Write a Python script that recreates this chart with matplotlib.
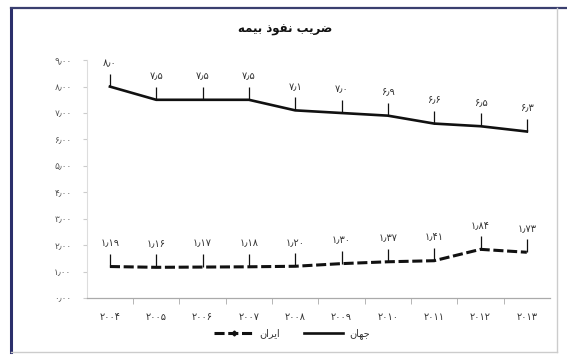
import matplotlib
matplotlib.use("Agg")
import matplotlib.pyplot as plt
from matplotlib.lines import Line2D

# data
years = [2004, 2005, 2006, 2007, 2008, 2009, 2010, 2011, 2012, 2013]
world = [8.0, 7.5, 7.5, 7.5, 7.1, 7.0, 6.9, 6.6, 6.5, 6.3]
iran = [1.19, 1.16, 1.17, 1.18, 1.20, 1.30, 1.37, 1.41, 1.84, 1.73]
yticks = [0, 1, 2, 3, 4, 5, 6, 7, 8, 9]

title = "ضریب نفوذ بیمه"
label_iran = "ایران"
label_world = "جهان"

# matplotlib has no arabic shaping, so pick the presentation forms by hand
FORMS = {  # iso, fin, ini, med
    "ا": ("\uFE8D", "\uFE8E", None, None),
    "ب": ("\uFE8F", "\uFE90", "\uFE91", "\uFE92"),
    "ج": ("\uFE9D", "\uFE9E", "\uFE9F", "\uFEA0"),
    "ذ": ("\uFEAB", "\uFEAC", None, None),
    "ر": ("\uFEAD", "\uFEAE", None, None),
    "ض": ("\uFEBD", "\uFEBE", "\uFEBF", "\uFEC0"),
    "ف": ("\uFED1", "\uFED2", "\uFED3", "\uFED4"),
    "م": ("\uFEE1", "\uFEE2", "\uFEE3", "\uFEE4"),
    "ن": ("\uFEE5", "\uFEE6", "\uFEE7", "\uFEE8"),
    "ه": ("\uFEE9", "\uFEEA", "\uFEEB", "\uFEEC"),
    "و": ("\uFEED", "\uFEEE", None, None),
    "ی": ("\uFBFC", "\uFBFD", "\uFBFE", "\uFBFF"),
}


def dual(c):
    return c in FORMS and FORMS[c][2] is not None


def shape(s):
    out = []
    for i, c in enumerate(s):
        if c not in FORMS:
            out.append(c)
            continue
        prev = s[i - 1] if i > 0 else ""
        nxt = s[i + 1] if i + 1 < len(s) else ""
        a = dual(prev)
        b = dual(c) and nxt in FORMS
        iso, fin, ini, med = FORMS[c]
        if a and b:
            out.append(med)
        elif a:
            out.append(fin)
        elif b:
            out.append(ini)
        else:
            out.append(iso)
    return "".join(reversed(out))


def fa(s):
    return s.translate(str.maketrans("0123456789.", "۰۱۲۳۴۵۶۷۸۹٫"))


plt.rcParams["font.family"] = ["DejaVu Sans"]

fig = plt.figure(figsize=(5.67, 3.56), dpi=100)
ax = fig.add_axes([0.153, 0.163, 0.817, 0.668])

x = list(range(len(years)))
ax.plot(x, world, color="#111111", lw=1.9, marker=2, markersize=9.5,
        markeredgewidth=0.9, solid_joinstyle="round")
ax.plot(x, iran, color="#111111", lw=2.2, linestyle=(0, (3.3, 1.2)),
        marker=2, markersize=9.5, markeredgewidth=0.9)

for i in x:
    ax.annotate(fa(f"{world[i]:.1f}"), (i, world[i]), xytext=(0, 17),
                textcoords="offset points", ha="center", va="center",
                fontsize=7, color="#333333")
    ax.annotate(fa(f"{iran[i]:.2f}"), (i, iran[i]), xytext=(0, 17),
                textcoords="offset points", ha="center", va="center",
                fontsize=7, color="#333333")

ax.set_xlim(-0.5, len(years) - 0.5)
ax.set_ylim(0, 9)
ax.set_yticks(yticks)
ax.set_yticklabels([fa(f"{v:.2f}") for v in yticks], fontsize=6.5, color="#555555")
ax.set_xticks(x)
ax.set_xticklabels([fa(str(y)) for y in years], fontsize=7, color="#333333")
ax.set_xticks([i + 0.5 for i in x[:-1]], minor=True)
ax.tick_params(axis="x", which="major", length=0, pad=10)
ax.tick_params(axis="x", which="minor", length=4, color="#aaaaaa")
ax.tick_params(axis="y", length=3, color="#cccccc", pad=8)

for side in ["top", "right"]:
    ax.spines[side].set_visible(False)
ax.spines["left"].set_color("#dddddd")
ax.spines["bottom"].set_color("#aaaaaa")
ax.spines["bottom"].set_linewidth(0.9)

fig.text(285 / 567, 1 - 30 / 356, shape(title), ha="center", va="center",
         fontsize=8.5, fontweight="bold", color="#111111")

handles = [
    Line2D([], [], color="#111111", lw=2.2, linestyle=(0, (3.3, 1.2)),
           marker="D", markersize=2.5),
    Line2D([], [], color="#111111", lw=1.9),
]
fig.legend(handles, [shape(label_iran), shape(label_world)], ncol=2,
           loc="center", bbox_to_anchor=(292 / 567, 1 - 334 / 356),
           frameon=False, fontsize=7, handlelength=4.0, columnspacing=2.5,
           handletextpad=0.6, labelcolor="#333333")

# page frame of the scanned figure
fig.add_artist(Line2D([11 / 567, 11 / 567], [4 / 356, 1 - 8 / 356],
                      color="#2b2f6b", lw=2.2, transform=fig.transFigure))
fig.add_artist(Line2D([11 / 567, 1], [1 - 8 / 356, 1 - 8 / 356],
                      color="#3a3f6f", lw=1.6, transform=fig.transFigure))
fig.add_artist(Line2D([557 / 567, 557 / 567], [4 / 356, 1 - 8 / 356],
                      color="#cccccc", lw=1.0, transform=fig.transFigure))
fig.add_artist(Line2D([11 / 567, 557 / 567], [4 / 356, 4 / 356],
                      color="#cccccc", lw=1.0, transform=fig.transFigure))

fig.savefig("out.png", dpi=100)
